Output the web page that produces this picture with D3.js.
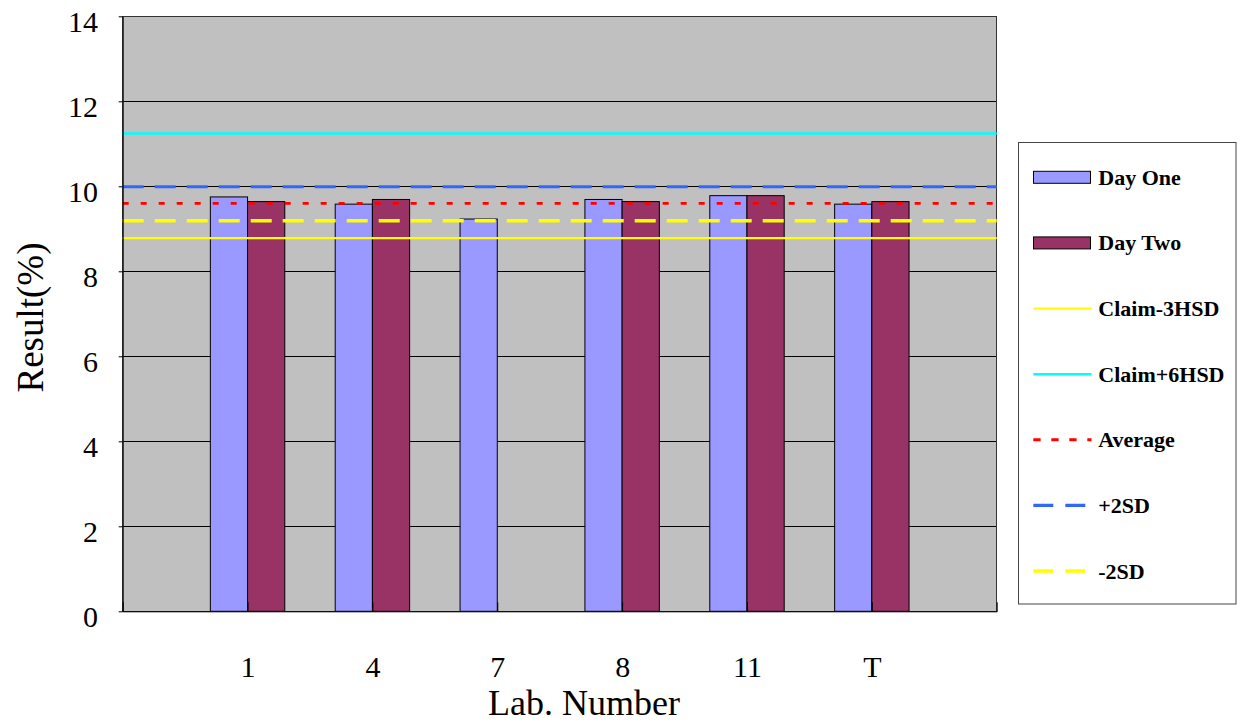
<!DOCTYPE html>
<html>
<head>
<meta charset="utf-8">
<script src="https://cdn.jsdelivr.net/npm/d3@7"></script>
<style>
  html, body { margin: 0; padding: 0; background: #fff; }
  svg { display: block; }
  svg text { font-family: "Liberation Serif", "Times New Roman", serif; }
</style>
</head>
<body>
<svg id="chart" width="1242" height="726"></svg>
<script>
// ---- data ----
const labs = ["1", "4", "7", "8", "11", "T"];
const dayOne = [9.75, 9.58, 9.23, 9.69, 9.78, 9.58];
const dayTwo = [9.64, 9.69, null, 9.64, 9.78, 9.64];
const refNames = ["Claim-3HSD", "Claim+6HSD", "Average", "+2SD", "-2SD"];
const refValues = [8.78, 11.24, 9.60, 9.99, 9.19];
const yTicks = [0, 2, 4, 6, 8, 10, 12, 14];

// ---- styles ----
const refStyles = [
  { color: "#FFFF00", width: 2.3, dash: null },
  { color: "#00FFFF", width: 2.5, dash: null },
  { color: "#FF0000", width: 2.8, dash: "6,12" },
  { color: "#3366FF", width: 3.2, dash: "21,11" },
  { color: "#FFFF00", width: 3.4, dash: "21,11" }
];
const cOne = "#9999FF", cTwo = "#993366";
const serif = "'Liberation Serif', 'Times New Roman', serif";

const svg = d3.select("#chart");
const L = 122.7, R = 996.7, T = 16.3, B = 611.3;

const x = d3.scalePoint().domain(labs).range([L, R]).padding(1);
const y = d3.scaleLinear().domain([0, 14]).range([B, T]);
const step = x.step();
const bw = step * 0.298;

// plot background
svg.append("rect").attr("x", L).attr("y", T).attr("width", R - L).attr("height", B - T)
  .attr("fill", "#C0C0C0");

// gridlines
svg.append("g").selectAll("line").data(yTicks.filter(v => v > 0 && v < 14)).join("line")
  .attr("x1", L).attr("x2", R).attr("y1", d => y(d)).attr("y2", d => y(d))
  .attr("stroke", "#000").attr("stroke-width", 1).attr("shape-rendering", "crispEdges");

// bars
const bars = svg.append("g");
bars.selectAll("rect.one").data(labs.map((l, i) => ({ l, v: dayOne[i] })).filter(d => d.v != null)).join("rect")
  .attr("x", d => x(d.l) - bw).attr("y", d => y(d.v)).attr("width", bw).attr("height", d => B - y(d.v))
  .attr("fill", cOne).attr("stroke", "#000").attr("stroke-width", 1);
bars.selectAll("rect.two").data(labs.map((l, i) => ({ l, v: dayTwo[i] })).filter(d => d.v != null)).join("rect")
  .attr("x", d => x(d.l)).attr("y", d => y(d.v)).attr("width", bw).attr("height", d => B - y(d.v))
  .attr("fill", cTwo).attr("stroke", "#000").attr("stroke-width", 1);

// plot border
svg.append("rect").attr("x", L).attr("y", T).attr("width", R - L).attr("height", B - T)
  .attr("fill", "none").attr("stroke", "#333").attr("stroke-width", 1).attr("shape-rendering", "crispEdges");

// reference lines
svg.append("g").selectAll("line").data(refValues).join("line")
  .attr("x1", L).attr("x2", R).attr("y1", d => y(d)).attr("y2", d => y(d))
  .attr("stroke", (d, i) => refStyles[i].color)
  .attr("stroke-width", (d, i) => refStyles[i].width)
  .attr("stroke-dasharray", (d, i) => refStyles[i].dash);

// y axis
const yAxis = svg.append("g").attr("transform", `translate(${L},0)`)
  .call(d3.axisLeft(y).tickValues(yTicks).tickSizeInner(4).tickSizeOuter(0).tickPadding(20.7));
yAxis.attr("font-family", null).style("font-family", serif);
yAxis.select(".domain").attr("stroke", "#000");
yAxis.selectAll(".tick line").attr("stroke", "#000");
yAxis.selectAll("text").style("font-family", serif).style("font-size", "30px").attr("fill", "#000").attr("dy", "0.49em");

// x axis
const xAxis = svg.append("g").attr("transform", `translate(0,${B})`)
  .call(d3.axisBottom(x).tickSizeInner(-9).tickSizeOuter(-9).tickPadding(44));
xAxis.attr("font-family", null).style("font-family", serif);
xAxis.select(".domain").attr("stroke", "#000");
xAxis.selectAll(".tick line").attr("stroke", "#000");
xAxis.selectAll("text").style("font-family", serif).style("font-size", "30px").attr("fill", "#000").attr("dy", "0.71em");

// axis titles
svg.append("text").attr("x", 584).attr("y", 715).attr("text-anchor", "middle")
  .style("font-family", serif).style("font-size", "36px").text("Lab. Number");
svg.append("text").attr("transform", "translate(42.7,317.5) rotate(-90)").attr("text-anchor", "middle")
  .style("font-family", serif).style("font-size", "37px").text("Result(%)");

// legend
const lg = svg.append("g");
lg.append("rect").attr("x", 1018.5).attr("y", 142.5).attr("width", 217.5).attr("height", 461.5)
  .attr("fill", "#fff").attr("stroke", "#444").attr("stroke-width", 1);
const legendItems = [
  { name: "Day One", type: "bar", color: cOne },
  { name: "Day Two", type: "bar", color: cTwo }
].concat(refNames.map((n, i) => ({ name: n, type: "line", style: refStyles[i] })));
const rowY = d3.scaleLinear().domain([0, 6]).range([177.3, 571]);
legendItems.forEach((it, i) => {
  const cy = rowY(i);
  if (it.type === "bar") {
    lg.append("rect").attr("x", 1033.5).attr("y", cy - 6).attr("width", 57).attr("height", 12)
      .attr("fill", it.color).attr("stroke", "#000").attr("stroke-width", 1);
  } else {
    lg.append("line").attr("x1", 1033.3).attr("x2", 1091.5).attr("y1", cy).attr("y2", cy)
      .attr("stroke", it.style.color).attr("stroke-width", it.style.width)
      .attr("stroke-dasharray", it.style.dash === "6,12" ? "7.3,10.7" : (it.style.dash ? "20,12" : null));
  }
  lg.append("text").attr("x", 1098.3).attr("y", cy + 7.5)
    .style("font-family", serif).style("font-weight", "bold").style("font-size", "22px").text(it.name);
});
</script>
</body>
</html>
